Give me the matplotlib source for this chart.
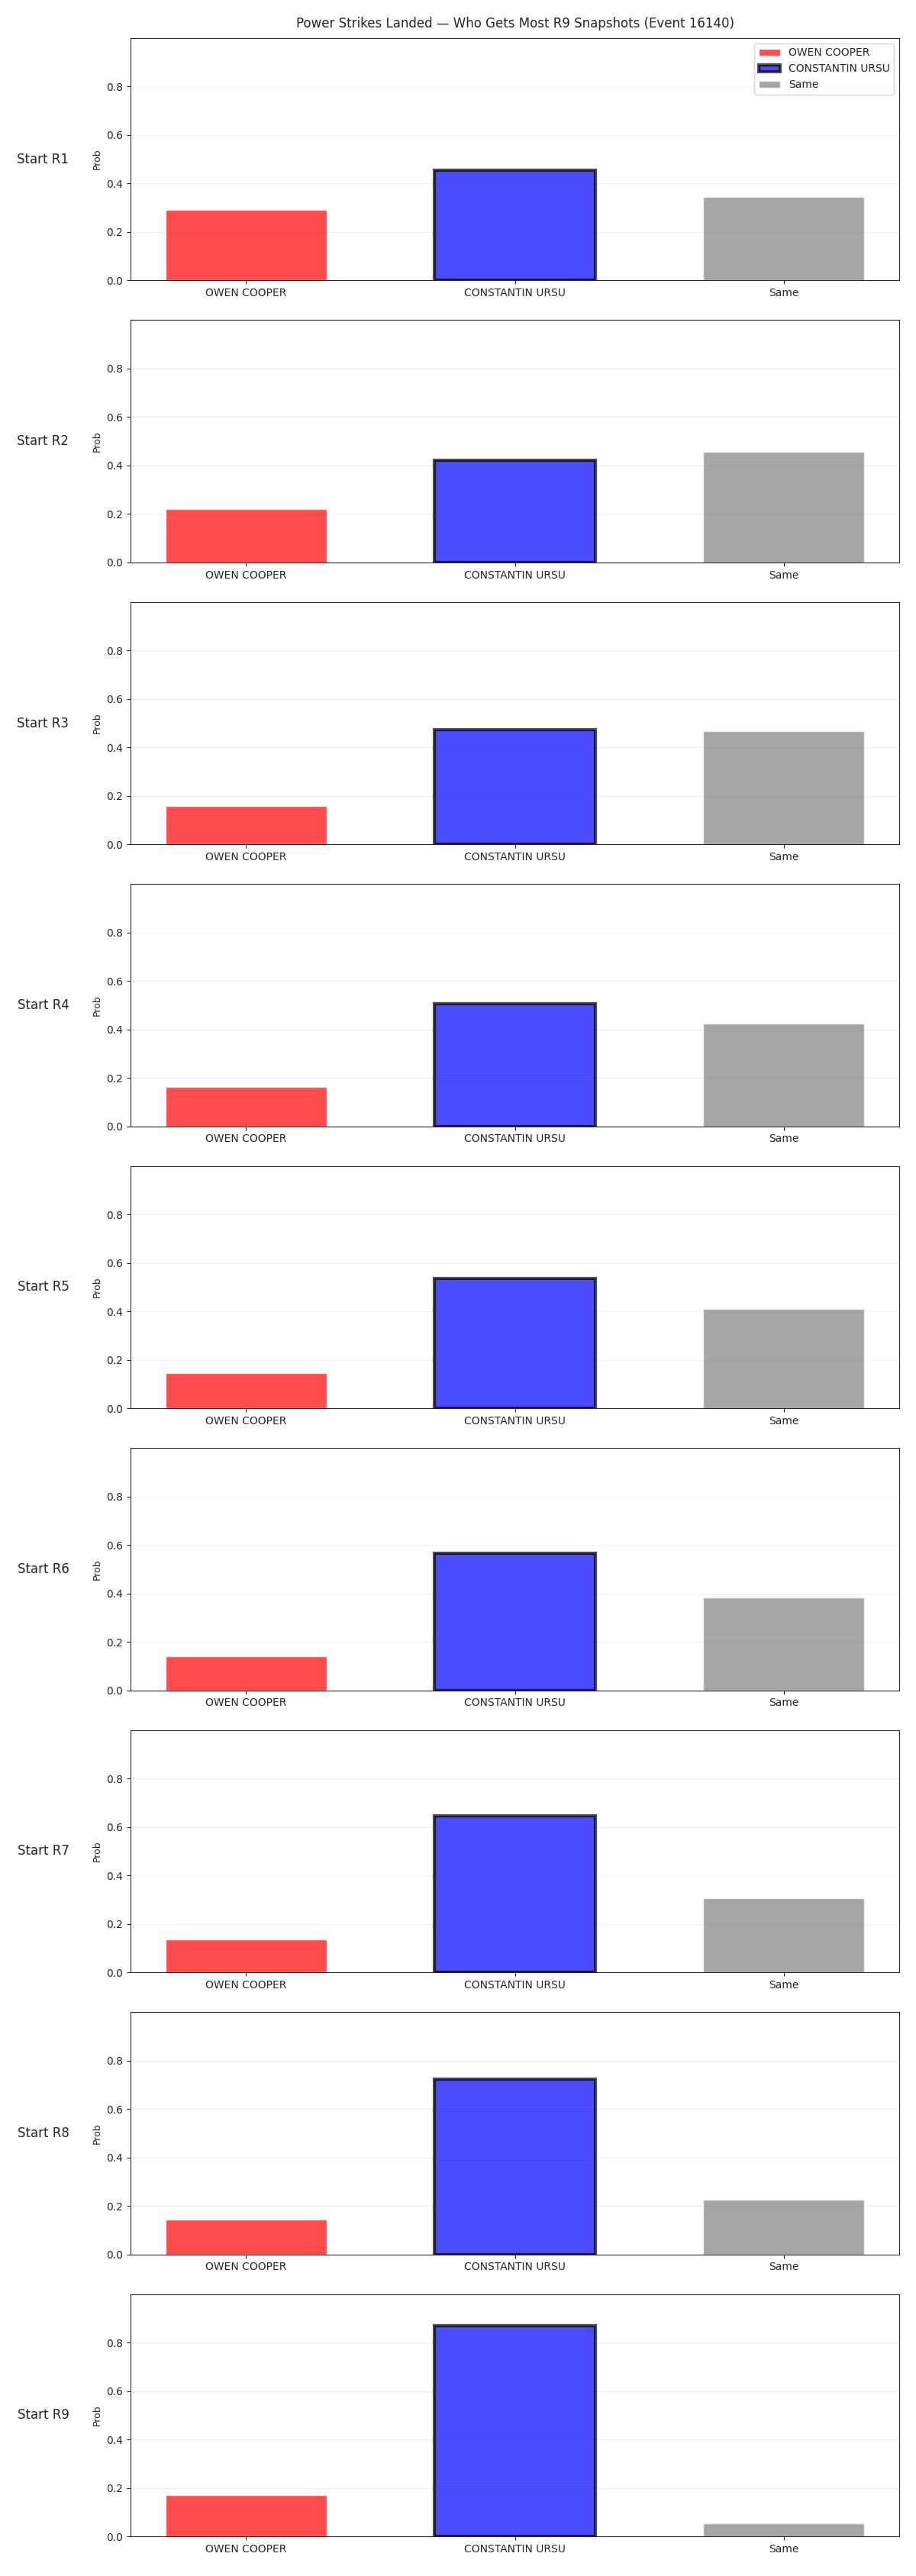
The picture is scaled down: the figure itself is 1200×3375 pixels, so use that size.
import matplotlib
matplotlib.use("Agg")
import matplotlib.pyplot as plt
import seaborn as sns

sns.set_style("ticks")
plt.rcParams['font.family'] = ['DejaVu Sans']

title = "Power Strikes Landed — Who Gets Most R9 Snapshots (Event 16140)"
categories = ["OWEN COOPER", "CONSTANTIN URSU", "Same"]
rounds = ["Start R1", "Start R2", "Start R3", "Start R4", "Start R5",
          "Start R6", "Start R7", "Start R8", "Start R9"]
owen = [0.29, 0.221, 0.158, 0.162, 0.145, 0.142, 0.136, 0.145, 0.170]
ursu = [0.456, 0.422, 0.474, 0.505, 0.535, 0.567, 0.645, 0.722, 0.869]
same = [0.344, 0.455, 0.466, 0.425, 0.410, 0.382, 0.305, 0.224, 0.054]
colors = ["red", "blue", "gray"]

n = len(rounds)
fig, axes = plt.subplots(n, 1, figsize=(12, 3.75 * n), dpi=100)
fig.subplots_adjust(left=0.1425, right=0.9817, top=0.9852, bottom=0.0154, hspace=0.164)

for i, ax in enumerate(axes):
    vals = [owen[i], ursu[i], same[i]]
    x = list(range(len(categories)))
    for j in x:
        if j == 1:
            ax.bar(j, vals[j], width=0.6, color=colors[j], alpha=0.7,
                   edgecolor="black", linewidth=3, label=categories[j])
        else:
            ax.bar(j, vals[j], width=0.6, color=colors[j], alpha=0.7,
                   label=categories[j])
    ax.set_xticks(x)
    ax.set_xticklabels(categories, fontsize=10)
    ax.set_ylim(0, 1.0)
    ax.set_yticks([0.0, 0.2, 0.4, 0.6, 0.8])
    ax.set_yticklabels(["0.0", "0.2", "0.4", "0.6", "0.8"], fontsize=10)
    ax.set_ylabel("Prob", fontsize=9)
    ax.grid(axis="y", alpha=0.3)
    ax.text(-0.08, 0.5, rounds[i], transform=ax.transAxes, ha="right",
            va="center", fontsize=12)
    if i == 0:
        ax.set_title(title, fontsize=12, pad=10)
        ax.legend(loc="upper right", fontsize=10)

fig.savefig("out.png", dpi=100)
